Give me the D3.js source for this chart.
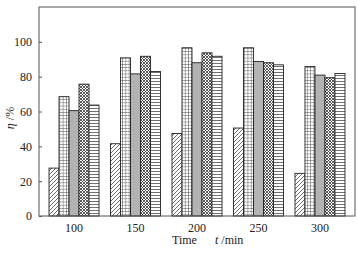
<!DOCTYPE html>
<html><head><meta charset="utf-8">
<script src="https://cdn.jsdelivr.net/npm/d3@7"></script>
<style>body{margin:0;background:#fff}svg{display:block}</style>
</head><body>
<script>
const categories = ["100","150","200","250","300"];
const seriesNames = ["s1","s2","s3","s4","s5"];
const s1 = [27.5, 41.5, 47.4, 50.5, 24.5];
const s2 = [68.5, 90.8, 96.6, 96.6, 85.8];
const s3 = [60.5, 81.6, 88.0, 88.7, 80.9];
const s4 = [75.7, 91.7, 93.7, 88.0, 79.4];
const s5 = [63.7, 83.0, 91.7, 86.8, 81.8];
const yTicks = [0,20,40,60,80,100];
const seriesValues = [s1,s2,s3,s4,s5];

const W=358,H=253, L=39, R=355, T=7, B=216;
const svg=d3.select("body").append("svg").attr("width",W).attr("height",H);
const defs=svg.append("defs");
const ink="#333";
let p=defs.append("pattern").attr("id","p0").attr("patternUnits","userSpaceOnUse").attr("width",4).attr("height",4);
p.append("path").attr("d","M-1,1 L1,-1 M0,4 L4,0 M3,5 L5,3").attr("stroke",ink).attr("stroke-width",0.7);
p=defs.append("pattern").attr("id","p1").attr("patternUnits","userSpaceOnUse").attr("width",3.3).attr("height",3.2);
p.append("rect").attr("width",3.3).attr("height",3.2).attr("fill","#fff");
p.append("path").attr("d","M0,0 H3.3 M0,0 V3.2").attr("stroke",ink).attr("stroke-width",0.8);
p=defs.append("pattern").attr("id","p3").attr("patternUnits","userSpaceOnUse").attr("width",3).attr("height",3);
p.append("rect").attr("width",3).attr("height",3).attr("fill","#fff");
p.append("path").attr("d","M0,0 L3,3 M3,0 L0,3").attr("stroke",ink).attr("stroke-width",0.8);
p=defs.append("pattern").attr("id","p4").attr("patternUnits","userSpaceOnUse").attr("width",4).attr("height",3);
p.append("rect").attr("width",4).attr("height",3).attr("fill","#fff");
p.append("path").attr("d","M0,0.5 H4").attr("stroke",ink).attr("stroke-width",0.7);
const fills=["url(#p0)","url(#p1)","#b3b3b3","url(#p3)","url(#p4)"];

const x0=d3.scaleBand().domain(categories).range([L,R]).paddingInner(0.187).paddingOuter(0.163);
const x1=d3.scaleBand().domain(seriesNames).range([0,x0.bandwidth()]);
const y=d3.scaleLinear().domain([0,120]).range([B,T]);

const g=svg.append("g");
seriesNames.forEach((s,si)=>{
  g.selectAll(null).data(seriesValues[si]).enter().append("rect")
    .attr("x",(d,i)=>x0(categories[i])+x1(s))
    .attr("y",d=>y(d)).attr("width",x1.bandwidth()).attr("height",d=>B-y(d))
    .attr("fill",fills[si]).attr("stroke","#222").attr("stroke-width",0.9);
});

svg.append("rect").attr("x",L).attr("y",T).attr("width",R-L).attr("height",B-T)
  .attr("fill","none").attr("stroke","#555").attr("stroke-width",1);

const yAx=svg.append("g").attr("transform",`translate(${L},0)`)
  .call(d3.axisLeft(y).tickValues(yTicks).tickSizeInner(-3).tickSizeOuter(0).tickPadding(7));
yAx.select(".domain").remove();
yAx.selectAll("line").attr("stroke","#555");
yAx.selectAll("text").attr("font-family","Liberation Serif").attr("font-size",12).attr("fill","#222");

const xAx=svg.append("g").attr("transform",`translate(0,${B})`)
  .call(d3.axisBottom(x0).tickSize(0).tickPadding(7));
xAx.select(".domain").remove();
xAx.selectAll("text").attr("font-family","Liberation Serif").attr("font-size",12).attr("fill","#222");

const xt=svg.append("text").attr("x",172).attr("y",244).attr("font-family","Liberation Serif").attr("font-size",12).attr("fill","#222");
xt.append("tspan").text("Time");
xt.append("tspan").attr("x",215).attr("font-style","italic").text("t");
xt.append("tspan").text(" /min");

const yt=svg.append("text").attr("transform","translate(14,118) rotate(-90)").attr("text-anchor","middle")
  .attr("font-family","Liberation Serif").attr("font-size",12).attr("fill","#222");
yt.append("tspan").attr("font-style","italic").text("η");
yt.append("tspan").text(" /%");
</script>
</body></html>
